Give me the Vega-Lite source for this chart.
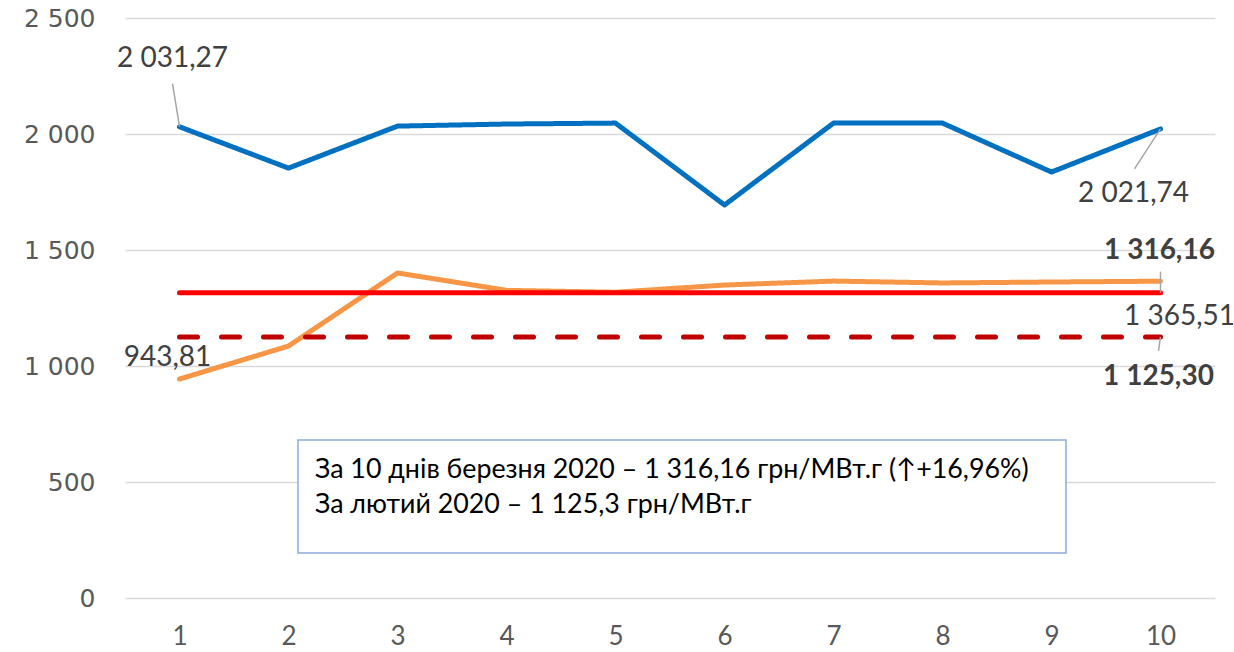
{
  "$schema": "https://vega.github.io/schema/vega-lite/v6.json",
  "autosize": "none",
  "width": 1090,
  "height": 580,
  "padding": {"left": 125, "top": 18, "right": 19, "bottom": 54},
  "background": "white",
  "config": {
    "view": {"stroke": null},
    "locale": {"number": {"decimal": ",", "thousands": " ", "grouping": [3], "currency": ["", ""]}}
  },
  "datasets": {
    "series": [
      {"day": 1, "series": "Ряд1", "value": 2031.27},
      {"day": 2, "series": "Ряд1", "value": 1853},
      {"day": 3, "series": "Ряд1", "value": 2034},
      {"day": 4, "series": "Ряд1", "value": 2043},
      {"day": 5, "series": "Ряд1", "value": 2047},
      {"day": 6, "series": "Ряд1", "value": 1694},
      {"day": 7, "series": "Ряд1", "value": 2047},
      {"day": 8, "series": "Ряд1", "value": 2047},
      {"day": 9, "series": "Ряд1", "value": 1836},
      {"day": 10, "series": "Ряд1", "value": 2021.74},
      {"day": 1, "series": "Ряд2", "value": 943.81},
      {"day": 2, "series": "Ряд2", "value": 1086},
      {"day": 3, "series": "Ряд2", "value": 1401},
      {"day": 4, "series": "Ряд2", "value": 1326},
      {"day": 5, "series": "Ряд2", "value": 1318},
      {"day": 6, "series": "Ряд2", "value": 1349},
      {"day": 7, "series": "Ряд2", "value": 1366},
      {"day": 8, "series": "Ряд2", "value": 1358},
      {"day": 9, "series": "Ряд2", "value": 1362},
      {"day": 10, "series": "Ряд2", "value": 1365.51},
      {"day": 1, "series": "Ряд3", "value": 1316.16},
      {"day": 2, "series": "Ряд3", "value": 1316.16},
      {"day": 3, "series": "Ряд3", "value": 1316.16},
      {"day": 4, "series": "Ряд3", "value": 1316.16},
      {"day": 5, "series": "Ряд3", "value": 1316.16},
      {"day": 6, "series": "Ряд3", "value": 1316.16},
      {"day": 7, "series": "Ряд3", "value": 1316.16},
      {"day": 8, "series": "Ряд3", "value": 1316.16},
      {"day": 9, "series": "Ряд3", "value": 1316.16},
      {"day": 10, "series": "Ряд3", "value": 1316.16},
      {"day": 1, "series": "Ряд4", "value": 1125.30},
      {"day": 2, "series": "Ряд4", "value": 1125.30},
      {"day": 3, "series": "Ряд4", "value": 1125.30},
      {"day": 4, "series": "Ряд4", "value": 1125.30},
      {"day": 5, "series": "Ряд4", "value": 1125.30},
      {"day": 6, "series": "Ряд4", "value": 1125.30},
      {"day": 7, "series": "Ряд4", "value": 1125.30},
      {"day": 8, "series": "Ряд4", "value": 1125.30},
      {"day": 9, "series": "Ряд4", "value": 1125.30},
      {"day": 10, "series": "Ряд4", "value": 1125.30}
    ],
    "note": [
      {"x_left": 2.087, "x_right": 9.133, "y_top": 681, "y_bottom": 194,
       "lines": ["За 10 днів березня 2020 – 1 316,16 грн/МВт.г (↑+16,96%)", "За лютий 2020 – 1 125,3 грн/МВт.г"]}
    ]
  },
  "encoding": {
    "x": {"field": "day", "type": "quantitative",
      "scale": {"domain": [0.5, 10.5], "nice": false},
      "axis": {"values": [1,2,3,4,5,6,7,8,9,10], "format": "d", "title": null, "grid": false, "domain": false, "ticks": false,
        "labelFont": "Lato", "labelFontSize": 26, "labelColor": "#595959", "labelPadding": 25}},
    "y": {"field": "value", "type": "quantitative",
      "scale": {"domain": [0, 2500], "nice": false},
      "axis": {"values": [0, 500, 1000, 1500, 2000, 2500], "format": ",.0f", "title": null, "domain": false, "ticks": false,
        "grid": true, "gridColor": "#D9D9D9", "gridWidth": 1.5,
        "labelFont": "DejaVu Sans", "labelFontSize": 25, "labelColor": "#595959", "labelPadding": 30}}
  },
  "layer": [
    {
      "data": {"name": "series"},
      "mark": {"type": "line", "strokeWidth": 5, "strokeCap": "round", "strokeJoin": "round"},
      "encoding": {
        "color": {"field": "series", "type": "nominal",
          "scale": {"domain": ["Ряд1", "Ряд2", "Ряд3", "Ряд4"], "range": ["#0070C0", "#F79646", "#FF0000", "#C00000"]},
          "legend": null},
        "strokeDash": {"field": "series", "type": "nominal",
          "scale": {"domain": ["Ряд1", "Ряд2", "Ряд3", "Ряд4"], "range": [[1, 0], [1, 0], [1, 0], [18, 24]]},
          "legend": null}
      }
    },
    {
      "data": {"name": "series"},
      "transform": [{"filter": "datum.series === 'Ряд1' && datum.day === 1"}],
      "mark": {"type": "rule", "color": "#A6A6A6", "strokeWidth": 1.5, "x2Offset": -7, "y2Offset": -43},
      "encoding": {"x2": {"field": "day"}, "y2": {"field": "value"}}
    },
    {
      "data": {"name": "series"},
      "transform": [{"filter": "datum.series === 'Ряд1' && datum.day === 10"}],
      "mark": {"type": "rule", "color": "#A6A6A6", "strokeWidth": 1.5, "x2Offset": -26, "y2Offset": 40},
      "encoding": {"x2": {"field": "day"}, "y2": {"field": "value"}}
    },
    {
      "data": {"name": "series"},
      "transform": [{"filter": "datum.series === 'Ряд3' && datum.day === 10"}],
      "mark": {"type": "rule", "color": "#A6A6A6", "strokeWidth": 1.5, "x2Offset": 0, "y2Offset": -21},
      "encoding": {"x2": {"field": "day"}, "y2": {"field": "value"}}
    },
    {
      "data": {"name": "series"},
      "transform": [{"filter": "datum.series === 'Ряд4' && datum.day === 10"}],
      "mark": {"type": "rule", "color": "#A6A6A6", "strokeWidth": 1.5, "x2Offset": -2, "y2Offset": 14},
      "encoding": {"x2": {"field": "day"}, "y2": {"field": "value"}}
    },
    {
      "data": {"name": "series"},
      "transform": [{"filter": "datum.series === 'Ряд1' && datum.day === 1"}],
      "mark": {"type": "text", "font": "Lato", "fontSize": 28, "color": "#404040", "align": "center", "baseline": "middle", "dx": -7, "dy": -68},
      "encoding": {"text": {"field": "value", "type": "quantitative", "format": ",.2f"}}
    },
    {
      "data": {"name": "series"},
      "transform": [{"filter": "datum.series === 'Ряд1' && datum.day === 10"}],
      "mark": {"type": "text", "font": "Lato", "fontSize": 28, "color": "#404040", "align": "center", "baseline": "middle", "dx": -27, "dy": 65},
      "encoding": {"text": {"field": "value", "type": "quantitative", "format": ",.2f"}}
    },
    {
      "data": {"name": "series"},
      "transform": [{"filter": "datum.series === 'Ряд2' && datum.day === 1"}],
      "mark": {"type": "text", "font": "Lato", "fontSize": 28, "color": "#404040", "align": "center", "baseline": "middle", "dx": -12, "dy": -21},
      "encoding": {"text": {"field": "value", "type": "quantitative", "format": ",.2f"}}
    },
    {
      "data": {"name": "series"},
      "transform": [{"filter": "datum.series === 'Ряд2' && datum.day === 10"}],
      "mark": {"type": "text", "font": "Lato", "fontSize": 28, "color": "#404040", "align": "center", "baseline": "middle", "dx": 19, "dy": 36},
      "encoding": {"text": {"field": "value", "type": "quantitative", "format": ",.2f"}}
    },
    {
      "data": {"name": "series"},
      "transform": [{"filter": "datum.series === 'Ряд3' && datum.day === 10"}],
      "mark": {"type": "text", "font": "Lato", "fontSize": 28, "fontWeight": "bold", "color": "#404040", "align": "center", "baseline": "middle", "dx": -1, "dy": -42},
      "encoding": {"text": {"field": "value", "type": "quantitative", "format": ",.2f"}}
    },
    {
      "data": {"name": "series"},
      "transform": [{"filter": "datum.series === 'Ряд4' && datum.day === 10"}],
      "mark": {"type": "text", "font": "Lato", "fontSize": 28, "fontWeight": "bold", "color": "#404040", "align": "center", "baseline": "middle", "dx": -2, "dy": 40},
      "encoding": {"text": {"field": "value", "type": "quantitative", "format": ",.2f"}}
    },
    {
      "data": {"name": "note"},
      "mark": {"type": "rect", "fill": "white", "stroke": "#8FAADC", "strokeWidth": 1.5},
      "encoding": {
        "x": {"field": "x_left", "type": "quantitative"},
        "x2": {"field": "x_right"},
        "y": {"field": "y_top", "type": "quantitative"},
        "y2": {"field": "y_bottom"}
      }
    },
    {
      "data": {"name": "note"},
      "mark": {"type": "text", "font": "Lato", "fontSize": 26.8, "color": "#000000", "align": "left", "baseline": "middle", "dx": 17, "dy": 30, "lineHeight": 35},
      "encoding": {
        "x": {"field": "x_left", "type": "quantitative"},
        "y": {"field": "y_top", "type": "quantitative"},
        "text": {"field": "lines"}
      }
    }
  ]
}
